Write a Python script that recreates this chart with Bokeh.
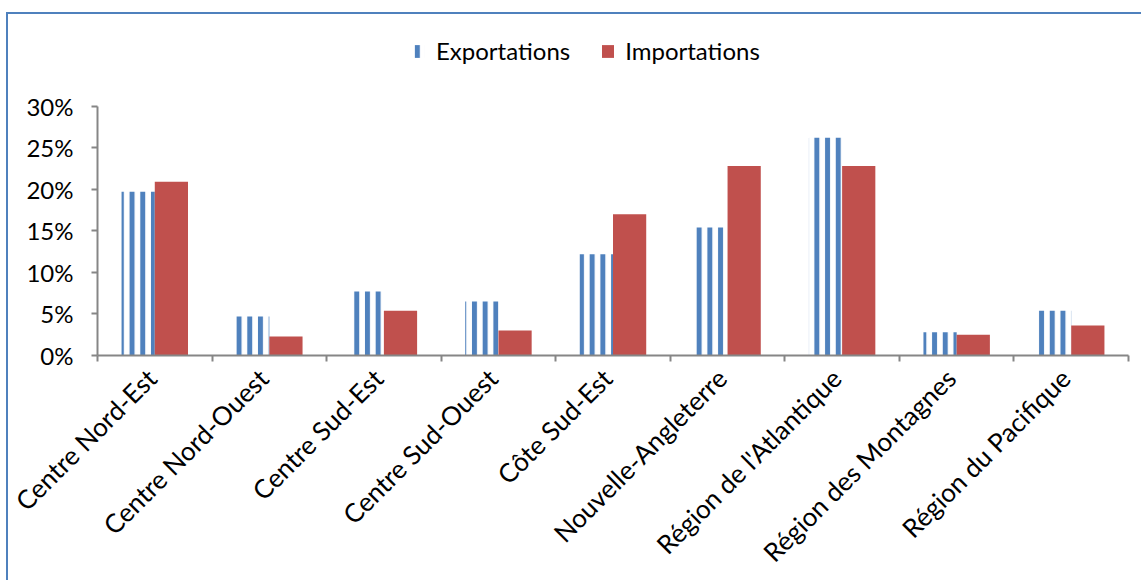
from math import pi
from bokeh.plotting import figure
from bokeh.models import (ColumnDataSource, Range1d, LinearAxis, FixedTicker,
                          PrintfTickFormatter, Legend, LegendItem)
from bokeh.transform import dodge
from bokeh.embed import file_html
from bokeh.resources import INLINE

categories = ["Centre Nord-Est", "Centre Nord-Ouest", "Centre Sud-Est", "Centre Sud-Ouest",
              "Côte Sud-Est", "Nouvelle-Angleterre", "Région de l'Atlantique",
              "Région des Montagnes", "Région du Pacifique"]
exportations = [19.7, 4.7, 7.7, 6.5, 12.2, 15.4, 26.2, 2.8, 5.4]
importations = [20.9, 2.3, 5.4, 3.0, 17.0, 22.8, 22.8, 2.5, 3.6]
y_ticks = [0, 5, 10, 15, 20, 25, 30]

FONT = "Lato"
BLUE = "#4F81BD"
RED = "#C0504D"
GRAY = "#868686"

n = len(categories)
centers = [i + 0.5 for i in range(n)]
label_pos = [c - 0.05 for c in centers]
src = ColumnDataSource(dict(cat=categories, xc=centers, exp=exportations, imp=importations))

# frame extends above the 30% line so the legend can sit inside it; the axis is bounded to 0..30
y_top = 30 * 326 / 250

p = figure(x_range=Range1d(0, n), y_range=Range1d(0, y_top),
           width=1135, height=568, output_backend="svg", toolbar_location=None,
           x_axis_location=None, min_border_left=89, min_border_right=15,
           min_border_top=16, min_border_bottom=226)
p.margin = (12, 0, 0, 6)
p.styles = {"border-left": f"2px solid {BLUE}", "border-top": f"2px solid {BLUE}"}
p.outline_line_color = None
p.xgrid.grid_line_color = None
p.ygrid.grid_line_color = None
p.background_fill_color = "white"
p.border_fill_color = "white"

r_exp = p.vbar(x=dodge("xc", -0.145), top="exp", width=0.29, source=src,
               fill_alpha=0, line_color=None, hatch_pattern="|", hatch_color=BLUE,
               hatch_scale=10.7, hatch_weight=5)
r_imp = p.vbar(x=dodge("xc", 0.145), top="imp", width=0.29, source=src,
               fill_color=RED, line_color=None)

# y axis
ya = p.yaxis[0]
ya.bounds = (0, 30)
ya.ticker = FixedTicker(ticks=y_ticks)
ya.formatter = PrintfTickFormatter(format="%d%%")
ya.axis_line_color = GRAY
ya.axis_line_width = 2
ya.major_tick_line_color = GRAY
ya.major_tick_line_width = 2
ya.major_tick_in = 0
ya.major_tick_out = 6
ya.minor_tick_line_color = None
ya.major_label_text_font = FONT
ya.major_label_text_font_size = "24px"
ya.major_label_text_color = "black"
ya.major_label_standoff = 18

# x axis: labels near category centres, tick marks at category boundaries
xa = LinearAxis(ticker=FixedTicker(ticks=label_pos, minor_ticks=list(range(n + 1))),
                major_label_overrides={c: lab for c, lab in zip(label_pos, categories)})
xa.axis_line_color = GRAY
xa.axis_line_width = 2
xa.major_tick_line_color = None
xa.major_tick_in = 0
xa.major_tick_out = 6
xa.minor_tick_line_color = GRAY
xa.minor_tick_line_width = 2
xa.minor_tick_in = 0
xa.minor_tick_out = 6
xa.major_label_orientation = pi / 4
xa.major_label_text_font = FONT
xa.major_label_text_font_size = "26px"
xa.major_label_text_color = "black"
xa.major_label_standoff = 12
p.add_layout(xa, "below")

legend = Legend(items=[LegendItem(label="Exportations", renderers=[r_exp]),
                       LegendItem(label="Importations", renderers=[r_imp])],
                orientation="horizontal", location=(314, 290))
legend.border_line_color = None
legend.background_fill_alpha = 0
legend.padding = 0
legend.margin = 0
legend.spacing = 30
legend.label_standoff = 10
legend.glyph_width = 15
legend.glyph_height = 16
legend.label_text_font = FONT
legend.label_text_font_size = "24px"
legend.label_text_color = "black"
p.add_layout(legend, "center")

open("out.html", "w").write(file_html(p, INLINE))
